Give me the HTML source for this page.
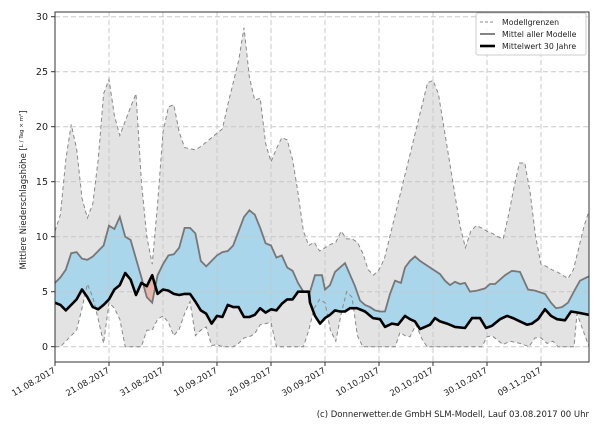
<!DOCTYPE html>
<html><head><meta charset="utf-8"><style>
body{margin:0;background:#fff;width:600px;height:420px;overflow:hidden;font-family:"DejaVu Sans","Liberation Sans",sans-serif;}
</style></head><body>
<svg id="s" width="600" height="420" xmlns="http://www.w3.org/2000/svg" font-family="DejaVu Sans, Liberation Sans, sans-serif"></svg>
<script>
const X0=55,X1=589,Y0=346.7,K=11,T=12,B=362;
const dx=d=>55+5.4*d, yv=v=>Y0-K*v;
function D(a){return a.map((v,i)=>[dx(i),v]);}
const upper=D([10.5,12,17,20.2,18,13.5,11.7,13,17,23,24.3,21,19.2,20.5,21.8,23,15,10,7.5,13,19.5,21.8,22,19.5,18.1,18,17.9,18.2,18.6,19,19.4,19.8,22,24,26,29,24.5,22.4,22.6,18.5,16.8,18,19,18.8,17,14,10.5,9.2,9.5,8.7,9,9.3,9.5,10.5,9.8,9.8,9.5,8.5,7,6.5,7,8,10,12,14,16,18,20,22,24,24.2,23,20,17,14,11,9,10.5,11,10.8,10.5,10.3,10,9.8,12,14.5,16.7,16.7,14,10,7.5,7.3,7,6.8,6.5,6.2,7,9,11,12.5]);
const lowerA=D([0,0,0.5,1,1.5,3.5,5.7,4.5,2.5,0.3,4,3.5,2.5,0,0,0,0,1.5,1.5,2.5,2.8,2.2,1,1.6,3,4.1,1,1.5,1.8,0.1,0.2,0,0,0,0.3,0.8,0.9,1.2,2,2.1,2.2,0,0,0,0,0,0,1.5,3.5,4.3,4,1.5,0.5,3,5,4.5,1,0,0,0,0,0,0,0]);
const lowerB=[[400,1.3],[405,1],[410,0.9],[416,2],[422,0.7],[427,0],[482,0],[487,0.9],[492,1],[503,0.2],[510,0.5],[520,0.3],[529,0],[535,0.8],[541,0.8],[547,0.3],[553,0.5],[558,0],[574,0],[577,3],[589,0]];
const lower=lowerA.concat(lowerB);
const grayA=D([5.8,6.3,7,8.5,8.6,8,7.9,8.2,8.7,9.2,11,10.7,11.8,10,9.7,8,6.3,4.5,4,6.5,7.5,8.3,8.4,9,10.8,10.8,10.3,7.8,7.3,7.8,8.3,8.6,8.7,9.2,10.5,11.8,12.4,12,10.8,9.4,9.2,8.1,8.3,7.2,6.9,5.8,5,5]);
const grayB=[[310,5],[315,6.5],[322,6.5],[325,5.2],[330,5.6],[335,6.8],[345,7.6],[355,5.5],[360,4.2],[365,3.8],[370,3.6],[375,3.3],[380,3.2],[385,3.2],[390,4.8],[395,6],[401,5.8],[405,7.2],[410,7.8],[415,8.2],[420,7.8],[430,7.2],[440,6.6],[445,6],[450,5.6],[455,5.9],[460,5.7],[465,5.8],[470,5],[477,5.1],[485,5.3],[490,5.7],[495,5.7],[505,6.5],[512,6.9],[520,6.8],[528,5.2],[535,5.1],[545,4.8],[551,4],[556,3.5],[562,3.6],[568,4],[575,5.2],[580,6],[589,6.4]];
const gray=grayA.concat(grayB);
const blackA=D([4,3.8,3.3,3.8,4.3,5.2,4.5,3.6,3.4,3.8,4.3,5.2,5.6,6.7,6.1,4.7,5.8,5.5,6.5,4.8,5.2,5.1,4.8,4.7,4.8,4.8,4.1,3.3,3,2.1,2.8,2.7,3.8,3.6,3.6,2.7,2.7,2.9,3.5,3.1,3.4,3.3,3.9,4.3,4.3,5,5,5]);
const blackB=[[310,4],[315,2.8],[320,2.1],[325,2.6],[330,2.9],[335,3.3],[340,3.2],[345,3.2],[350,3.5],[357,3.5],[365,3.2],[373,2.6],[380,2.5],[385,1.8],[392,2.1],[398,2],[405,2.8],[410,2.5],[415,2.3],[420,1.6],[425,1.8],[430,2],[435,2.6],[440,2.3],[447,2.1],[455,1.8],[465,1.7],[472,2.6],[480,2.6],[486,1.7],[492,1.9],[500,2.5],[507,2.8],[513,2.6],[520,2.3],[527,2],[532,2.1],[538,2.5],[545,3.4],[551,2.8],[557,2.5],[565,2.4],[571,3.2],[578,3.1],[589,2.9]];
const black=blackA.concat(blackB);
function interp(a,x){for(let i=0;i<a.length-1;i++){if(x>=a[i][0]&&x<=a[i+1][0]){const t=(x-a[i][0])/((a[i+1][0]-a[i][0])||1);return a[i][1]+t*(a[i+1][1]-a[i][1]);}}return x<a[0][0]?a[0][1]:a[a.length-1][1];}
const pts=a=>a.map(p=>p[0].toFixed(1)+","+yv(p[1]).toFixed(1)).join(" ");
let h="";
h+=`<defs><clipPath id="c"><rect x="${X0}" y="${T}" width="${X1-X0}" height="${B-T}"/></clipPath></defs>`;
h+=`<g clip-path="url(#c)">`;
h+=`<polygon fill="#e3e3e3" points="${pts(upper)} ${pts(lower.slice().reverse())}"/>`;
let bu=[],bl=[],pu=[],pl=[];
for(let x=X0;x<=X1;x+=0.5){const g=interp(gray,x),b=interp(black,x),m=Math.min(g,b);bu.push([x,g]);bl.push([x,m]);pu.push([x,b]);pl.push([x,m]);}
h+=`<polygon fill="#a9d6ea" points="${pts(bu)} ${pts(bl.reverse())}"/>`;
h+=`<polygon fill="#e9b5a9" points="${pts(pu)} ${pts(pl.reverse())}"/>`;
h+=`</g>`;
for(let d=0;d<=90;d+=10){const x=dx(d);h+=`<line x1="${x}" y1="${T}" x2="${x}" y2="${B}" stroke="#c8c8c8" stroke-dasharray="5,3" stroke-width="1"/>`;}
for(let v=0;v<=30;v+=5){const y=yv(v);h+=`<line x1="${X0}" y1="${y}" x2="${X1}" y2="${y}" stroke="#c8c8c8" stroke-dasharray="5,3" stroke-width="1"/>`;}
h+=`<g clip-path="url(#c)" fill="none">`;
h+=`<polyline points="${pts(upper)}" stroke="#888" stroke-dasharray="4,3" stroke-width="1"/>`;
h+=`<polyline points="${pts(lower)}" stroke="#888" stroke-dasharray="4,3" stroke-width="1"/>`;
h+=`<polyline points="${pts(gray)}" stroke="#777" stroke-width="1.8"/>`;
h+=`<polyline points="${pts(black)}" stroke="#000" stroke-width="2.6" stroke-linejoin="round"/>`;
h+=`</g>`;
h+=`<rect x="${X0}" y="${T}" width="${X1-X0}" height="${B-T}" fill="none" stroke="#333" stroke-width="1"/>`;
for(let v=0;v<=30;v+=5){const y=yv(v);h+=`<line x1="${X0-4}" y1="${y}" x2="${X0}" y2="${y}" stroke="#333"/><text x="${X0-7}" y="${y+3.5}" font-size="9.5" text-anchor="end" fill="#222">${v}</text>`;}
const labs=["11.08.2017","21.08.2017","31.08.2017","10.09.2017","20.09.2017","30.09.2017","10.10.2017","20.10.2017","30.10.2017","09.11.2017"];
labs.forEach((l,i)=>{const x=dx(i*10);h+=`<line x1="${x}" y1="${B}" x2="${x}" y2="${B+4}" stroke="#333"/><text transform="translate(${x+1},${B+10}) rotate(-30)" font-size="8.5" text-anchor="end" fill="#222">${l}</text>`;});
h+=`<text transform="translate(26,190) rotate(-90)" font-size="8.5" text-anchor="middle" fill="#222">Mittlere Niederschlagshöhe [<tspan font-size="5.5" dy="-3">L / Tag × m²</tspan><tspan dy="3">]</tspan></text>`;
h+=`<rect x="476" y="13" width="110" height="42" fill="#fff" fill-opacity="0.85" stroke="#ccc" rx="2"/>`;
h+=`<line x1="480" y1="22" x2="495" y2="22" stroke="#888" stroke-dasharray="3,2"/><text x="502" y="25" font-size="7.8" fill="#222">Modellgrenzen</text>`;
h+=`<line x1="480" y1="34" x2="495" y2="34" stroke="#777" stroke-width="1.8"/><text x="502" y="37" font-size="7.8" fill="#222">Mittel aller Modelle</text>`;
h+=`<line x1="480" y1="46" x2="495" y2="46" stroke="#000" stroke-width="2.6"/><text x="502" y="49" font-size="7.8" fill="#222">Mittelwert 30 Jahre</text>`;
h+=`<text x="589" y="417" font-size="8.5" text-anchor="end" fill="#222">(c) Donnerwetter.de GmbH SLM-Modell, Lauf 03.08.2017 00 Uhr</text>`;
document.getElementById("s").innerHTML=h;
</script>
</body></html>
